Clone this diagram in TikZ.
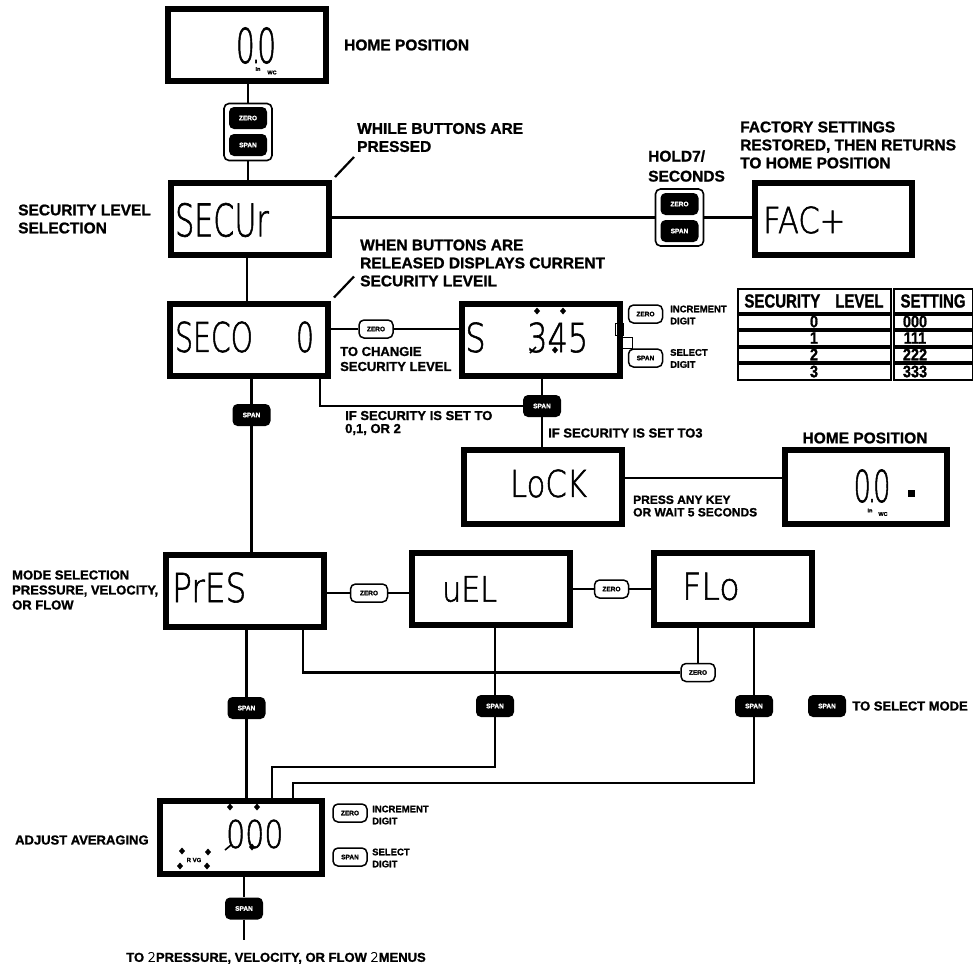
\documentclass[tikz,border=0pt]{standalone}
\usepackage{fontspec}
\setmainfont{Liberation Sans}
\newfontfamily\labfont{Liberation Sans Bold}[FakeBold=1.2]
\newfontfamily\lcdfont{DejaVu Sans ExtraLight}[FakeBold=1.5]
\usetikzlibrary{positioning}

\begin{document}
\begin{tikzpicture}[
  x=1pt, y=-1pt,
  disp/.style={draw, line width=6pt, minimum width=158pt, minimum height=72pt, inner sep=0pt},
  lcd/.style={font=\lcdfont\fontsize{#1}{#1}\selectfont, inner sep=0pt},
  lab/.style={font=\labfont\fontsize{15.5}{18}\selectfont, align=left, inner sep=0pt, anchor=west},
  slab/.style={font=\labfont\fontsize{13}{15}\selectfont, align=left, inner sep=0pt, anchor=west},
  tlab/.style={font=\labfont\fontsize{9.5}{12}\selectfont, align=left, inner sep=0pt, anchor=west},
  unit/.style={font=\labfont\fontsize{5.5}{5.5}\selectfont, inner sep=0pt},
  pad/.style={draw, line width=1.6pt, rounded corners=5pt, minimum width=48pt, minimum height=57pt},
  btn/.style={fill=black, text=white, rounded corners=5pt, minimum width=38pt, minimum height=22pt, inner sep=0pt, font=\labfont\fontsize{6.5}{7}\selectfont},
  obtn/.style={draw, line width=1.5pt, fill=white, rounded corners=5pt, minimum width=34pt, minimum height=18pt, inner sep=0pt, font=\labfont\fontsize{6.5}{7}\selectfont},
  cell/.style={font=\labfont\fontsize{14.5}{15}\selectfont, inner sep=0pt, yscale=1.15},
  wire/.style={line width=2.2pt}
]
  \useasboundingbox (0,0) rectangle (974,967);
  \fill[white] (0,0) rectangle (974,967);

  \node[disp] (home) at (247,45) {};
  \node[lcd=48, xscale=0.62] (homeval) at (256,45.5) {0\kern-.12em.\kern-.12em0};
  \node[unit] (homein) at (258,69) {In};
  \node[unit] (homewc) at (272,72.5) {WC};
  \node[lab, right=15pt of home] (homelab) {HOME POSITION};

  \node[pad] (pad1) at (248,132) {};
  \node[btn] (pad1z) at ([yshift=14pt]pad1.center) {ZERO};
  \node[btn] (pad1s) at ([yshift=-13pt]pad1.center) {SPAN};
  \node[lab] (whilelab) at (357,137.5) {WHILE BUTTONS ARE\\PRESSED};

  \node[disp] (secur) at (250,219) {};
  \node[lcd=45, xscale=0.67, anchor=west] (securtxt) at (175,220) {SECUr};
  \node[lab] (seclab) at (18,219) {SECURITY LEVEL\\SELECTION};

  \node[pad] (pad2) at (679.5,217.5) {};
  \node[btn] (pad2z) at ([yshift=13.5pt]pad2.center) {ZERO};
  \node[btn] (pad2s) at ([yshift=-13.5pt]pad2.center) {SPAN};
  \node[lab] (holdlab) at (648,166) {HOLD7/\\[2pt]SECONDS};
  \node[disp, minimum width=157pt] (fact) at (833.5,219) {};
  \node[lcd=36, xscale=0.85, anchor=west] (facttxt) at (763,220) {FAC+};
  \node[lab] (factlab) at (740,145) {FACTORY SETTINGS\\RESTORED, THEN RETURNS\\TO HOME POSITION};

  \node[disp] (seco) at (249,339.5) {};
  \node[lcd=41, xscale=0.69, anchor=west] (secotxt) at (175,337) {SECO};
  \node[lcd=41, xscale=0.69] (secoval) at (305,337) {0};
  \node[lab] (whenlab) at (360,263) {WHEN BUTTONS ARE\\RELEASED DISPLAYS CURRENT\\SECURITY LEVEIL};
  \node[obtn] (zero1) at (376,329) {ZERO};
  \node[slab] (chglab) at (340,359) {TO CHANGIE\\SECURITY LEVEL};

  \node[disp] (sdig) at (540.5,340) {};
  \node[lcd=40, xscale=0.8] (sdigs) at (475.5,337.5) {S};
  \node[lcd=40, xscale=0.8, anchor=west] (sdigval) at (527,337.5) {345};
  \node[obtn] (zero2) at (645.5,314) {ZERO};
  \node[obtn] (span2) at (645.5,358) {SPAN};
  \node[tlab] (inclab) at (670,315) {INCREMENT\\DIGIT};
  \node[tlab] (sellab) at (670,358.5) {SELECT\\DIGIT};
  \draw[line width=0.8pt] (615,323) rectangle (623,335) (620,337) rectangle (632,348);

  \foreach \ya/\yb in {289/313,315/329,331/346,348/362,364/380}
    \draw[line width=1.2pt] (738,\ya) rectangle (891,\yb) (894,\ya) rectangle (972.5,\yb);
  \node[cell, font=\labfont\fontsize{15}{15}\selectfont, yscale=1.1] (lvlhead) at (814,301) {SECURITY\quad LEVEL};
  \node[cell, font=\labfont\fontsize{15}{15}\selectfont, yscale=1.1] (sethead) at (933,301) {SETTING};
  \foreach \lv/\y in {0/321.5,1/338,2/354.5,3/371.5} {
    \node[cell] (lv\lv) at (814,\y) {\lv};
    \node[cell] (set\lv) at (915,\y) {\lv\lv\lv};
  }

  \node[btn] (spanA) at (251.5,415) {SPAN};
  \node[btn] (spanB) at (542,406) {SPAN};
  \node[slab, font=\labfont\fontsize{13}{13}\selectfont] (set012) at (345,423) {IF SECURITY IS SET TO\\0,1, OR 2};
  \node[slab] (set3) at (548,433) {IF SECURITY IS SET TO3};

  \node[disp, minimum height=74pt] (lock) at (543,487) {};
  \node[lcd=37, xscale=0.83] (locktxt) at (548.5,483.5) {LoCK};
  \node[disp, minimum height=74pt, minimum width=162pt] (homeb) at (866,487) {};
  \node[lcd=44, xscale=0.62] (homebval) at (872,486) {0\kern-.12em.\kern-.12em0};
  \node[unit] (homebin) at (870,510.5) {In};
  \node[unit] (homebwc) at (883,514) {WC};
  \fill (908,490) rectangle (915,497);
  \node[lab, anchor=center] (homeblab) at (865,438) {HOME POSITION};
  \node[font=\labfont\fontsize{12}{12.5}\selectfont, align=left, inner sep=0pt, anchor=west] (presslab) at (633,506) {PRESS ANY KEY\\OR WAIT 5 SECONDS};

  \node[disp] (pres) at (245,590.5) {};
  \node[lcd=40, xscale=0.82, anchor=west] (prestxt) at (172,587.5) {PrES};
  \node[slab] (modelab) at (12,590) {MODE SELECTION\\PRESSURE, VELOCITY,\\OR FLOW};
  \node[obtn, minimum width=37pt] (zero3) at (369,593) {ZERO};
  \node[disp] (vel) at (490.5,588.5) {};
  \node[lcd=35, xscale=0.86, anchor=west] (veltxt) at (442,589) {uEL};
  \node[obtn] (zero4) at (611.5,589) {ZERO};
  \node[disp] (flow) at (732.5,588.5) {};
  \node[lcd=37, xscale=0.9, anchor=west] (flowtxt) at (682,586.5) {FLo};
  \node[obtn] (zero5) at (698,672.5) {ZERO};
  \node[btn] (span3) at (246.5,708) {SPAN};
  \node[btn] (span4) at (495,706) {SPAN};
  \node[btn] (span5) at (754,706) {SPAN};
  \node[btn] (span6) at (827,706) {SPAN};
  \node[slab, right=6pt of span6] (modesel) {TO SELECT MODE};

  \node[disp, minimum width=162pt, minimum height=73pt] (avg) at (241,837.5) {};
  \node[lcd=38, xscale=0.79, anchor=west] (avgval) at (226,834) {000};
  \node[unit, font=\labfont\fontsize{6}{6}\selectfont] (avgtag) at (194,860) {R VG};
  \node[slab] (adjlab) at (15,840) {ADJUST AVERAGING};
  \node[obtn] (zero6) at (350,813) {ZERO};
  \node[obtn] (span7) at (350,857) {SPAN};
  \node[tlab] (inc2lab) at (372,815) {INCREMENT\\DIGIT};
  \node[tlab] (sel2lab) at (372,858) {SELECT\\DIGIT};
  \node[btn] (span8) at (244,908.5) {SPAN};
  \coordinate (exit) at (244,940);
  \node[slab, anchor=center] (exitlab) at (276,958) {TO {\lcdfont\fontsize{13}{13}\selectfont 2}PRESSURE, VELOCITY, OR FLOW {\lcdfont\fontsize{13}{13}\selectfont 2}MENUS};

  \foreach \p in {(537,311),(563,311),(555,350),(230,807),(257,807),(252,847),(182,851),(180,866),(208,852),(207,866)}
    \fill \p +(0,-3.5) -- +(3,0) -- +(0,3.5) -- +(-3,0) -- cycle;
  \draw[line width=1.6pt] (530,353) -- (536,347) (225,850) -- (231,845);

  \draw[wire] (pad1.north |- home.south) -- (pad1.north);
  \draw[wire] (pad1.south) -- (pad1.south |- secur.north);
  \draw[wire] (secur.east |- pad2.west) -- (pad2.west);
  \draw[wire] (pad2.east) -- (pad2.east -| fact.west);
  \draw[wire] ([xshift=-3pt]secur.south) -- ([xshift=-3pt]secur.south |- seco.north);
  \draw[wire] ([shift={(3,-3)}]secur.north east) -- ++(19,-20);
  \draw[wire] ([shift={(3,-3)}]seco.north east) -- ++(20,-21);
  \draw[wire] (zero1.west -| seco.east) -- (zero1.west);
  \draw[wire] (zero1.east) -- (zero1.east -| sdig.west);
  \draw[wire] (spanA.north |- seco.south) -- (spanA.north);
  \draw[wire] (spanA.south) -- (spanA.south |- pres.north);
  \draw[wire] ([xshift=-11pt]seco.south east) |- (spanB.west);
  \draw[wire] (spanB.north |- sdig.south) -- (spanB.north);
  \draw[wire] (spanB.south) -- (spanB.south |- lock.north);
  \draw[wire] ([yshift=9pt]lock.east) -- ([yshift=9pt]lock.east -| homeb.west);
  \draw[wire] (zero3.west -| pres.east) -- (zero3.west);
  \draw[wire] (zero3.east) -- (zero3.east -| vel.west);
  \draw[wire] (zero4.west -| vel.east) -- (zero4.west);
  \draw[wire] (zero4.east) -- (zero4.east -| flow.west);
  \draw[wire] ([xshift=58pt]pres.south) |- (zero5.west);
  \draw[wire] (zero5.north |- flow.south) -- (zero5.north);
  \draw[wire] (span3.north |- pres.south) -- (span3.north);
  \draw[wire] (span3.south) -- (span3.south |- avg.north);
  \coordinate (velbend) at (272,767);
  \coordinate (flowbend) at (293,783);
  \draw[wire] (span4.north |- vel.south) -- (span4.north);
  \draw[wire] (span4.south) |- (velbend) -- (velbend |- avg.north);
  \draw[wire] (span5.north |- flow.south) -- (span5.north);
  \draw[wire] (span5.south) |- (flowbend) -- (flowbend |- avg.north);
  \draw[wire] (span8.north |- avg.south) -- (span8.north);
  \draw[wire] (span8.south) -- (exit);
\end{tikzpicture}
\end{document}
